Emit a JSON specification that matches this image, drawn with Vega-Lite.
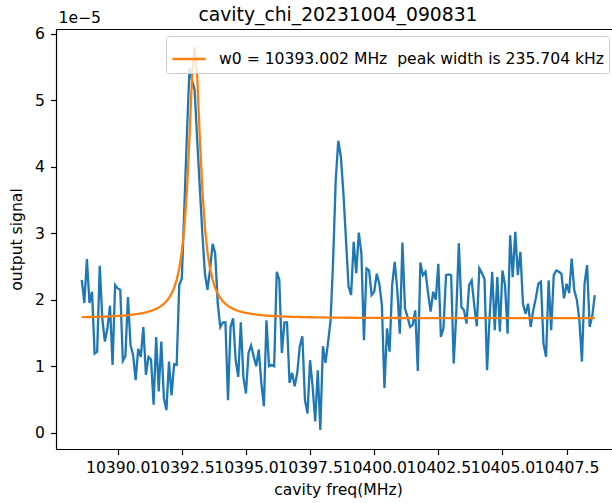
{
"$schema": "https://vega.github.io/schema/vega-lite/v6.json",
"width": 556, "height": 420,
"autosize": {"type": "none"},
"padding": {"left": 56, "top": 29, "right": 0, "bottom": 54},
"background": "white",
"title": {"text": "cavity_chi_20231004_090831", "font": "DejaVu Sans", "fontSize": 18.75, "fontWeight": "normal", "color": "black", "anchor": "middle", "frame": "group", "dx": 4, "baseline": "alphabetic", "offset": -29},
"config": {"view": {"stroke": null}, "font": "DejaVu Sans"},
"data": {"values": [
{"freq":10388.6,"signal":2.30,"fit":1.737},{"freq":10388.7,"signal":1.95,"fit":1.738},{"freq":10388.8,"signal":2.61,"fit":1.739},{"freq":10388.9,"signal":1.95,"fit":1.740},{"freq":10389.0,"signal":2.12,"fit":1.741},
{"freq":10389.1,"signal":1.19,"fit":1.742},{"freq":10389.2,"signal":1.22,"fit":1.743},{"freq":10389.3,"signal":2.51,"fit":1.744},{"freq":10389.4,"signal":1.72,"fit":1.745},{"freq":10389.5,"signal":1.37,"fit":1.747},
{"freq":10389.6,"signal":1.57,"fit":1.748},{"freq":10389.7,"signal":1.91,"fit":1.750},{"freq":10389.8,"signal":1.02,"fit":1.752},{"freq":10389.9,"signal":2.22,"fit":1.754},{"freq":10390.0,"signal":2.17,"fit":1.756},
{"freq":10390.1,"signal":2.15,"fit":1.759},{"freq":10390.2,"signal":1.08,"fit":1.762},{"freq":10390.3,"signal":1.15,"fit":1.765},{"freq":10390.4,"signal":2.04,"fit":1.768},{"freq":10390.5,"signal":1.32,"fit":1.772},
{"freq":10390.6,"signal":1.17,"fit":1.777},{"freq":10390.7,"signal":0.79,"fit":1.782},{"freq":10390.8,"signal":1.26,"fit":1.787},{"freq":10390.9,"signal":1.14,"fit":1.794},{"freq":10391.0,"signal":1.59,"fit":1.801},
{"freq":10391.1,"signal":0.87,"fit":1.810},{"freq":10391.2,"signal":1.14,"fit":1.820},{"freq":10391.3,"signal":1.10,"fit":1.831},{"freq":10391.4,"signal":0.42,"fit":1.845},{"freq":10391.5,"signal":1.44,"fit":1.862},
{"freq":10391.6,"signal":0.62,"fit":1.882},{"freq":10391.7,"signal":1.37,"fit":1.907},{"freq":10391.8,"signal":0.52,"fit":1.937},{"freq":10391.9,"signal":0.34,"fit":1.976},{"freq":10392.0,"signal":1.07,"fit":2.026},
{"freq":10392.1,"signal":0.56,"fit":2.091},{"freq":10392.2,"signal":1.03,"fit":2.178},{"freq":10392.3,"signal":1.02,"fit":2.299},{"freq":10392.4,"signal":2.22,"fit":2.469},{"freq":10392.5,"signal":2.32,"fit":2.718},
{"freq":10392.6,"signal":3.40,"fit":3.091},{"freq":10392.7,"signal":4.50,"fit":3.653},{"freq":10392.8,"signal":5.48,"fit":4.451},{"freq":10392.9,"signal":5.30,"fit":5.352},{"freq":10393.0,"signal":5.15,"fit":5.800},
{"freq":10393.1,"signal":4.40,"fit":5.352},{"freq":10393.2,"signal":3.70,"fit":4.451},{"freq":10393.3,"signal":3.00,"fit":3.653},{"freq":10393.4,"signal":2.40,"fit":3.091},{"freq":10393.5,"signal":2.15,"fit":2.718},
{"freq":10393.6,"signal":2.45,"fit":2.469},{"freq":10393.7,"signal":2.84,"fit":2.299},{"freq":10393.8,"signal":2.70,"fit":2.178},{"freq":10393.9,"signal":1.95,"fit":2.091},{"freq":10394.0,"signal":1.59,"fit":2.026},
{"freq":10394.1,"signal":1.66,"fit":1.976},{"freq":10394.2,"signal":1.66,"fit":1.937},{"freq":10394.3,"signal":0.49,"fit":1.907},{"freq":10394.4,"signal":1.59,"fit":1.882},{"freq":10394.5,"signal":1.72,"fit":1.862},
{"freq":10394.6,"signal":1.09,"fit":1.845},{"freq":10394.7,"signal":0.84,"fit":1.831},{"freq":10394.8,"signal":1.66,"fit":1.820},{"freq":10394.9,"signal":0.84,"fit":1.810},{"freq":10395.0,"signal":0.59,"fit":1.801},
{"freq":10395.1,"signal":1.20,"fit":1.794},{"freq":10395.2,"signal":1.31,"fit":1.787},{"freq":10395.3,"signal":1.15,"fit":1.782},{"freq":10395.4,"signal":1.00,"fit":1.777},{"freq":10395.5,"signal":1.25,"fit":1.772},
{"freq":10395.6,"signal":0.75,"fit":1.768},{"freq":10395.7,"signal":0.40,"fit":1.765},{"freq":10395.8,"signal":1.69,"fit":1.762},{"freq":10395.9,"signal":1.00,"fit":1.759},{"freq":10396.0,"signal":1.02,"fit":1.756},
{"freq":10396.1,"signal":1.00,"fit":1.754},{"freq":10396.2,"signal":2.42,"fit":1.752},{"freq":10396.3,"signal":2.30,"fit":1.750},{"freq":10396.4,"signal":1.20,"fit":1.748},{"freq":10396.5,"signal":1.66,"fit":1.747},
{"freq":10396.6,"signal":1.66,"fit":1.745},{"freq":10396.7,"signal":0.75,"fit":1.744},{"freq":10396.8,"signal":0.90,"fit":1.743},{"freq":10396.9,"signal":0.70,"fit":1.742},{"freq":10397.0,"signal":0.90,"fit":1.741},
{"freq":10397.1,"signal":1.30,"fit":1.740},{"freq":10397.2,"signal":1.45,"fit":1.739},{"freq":10397.3,"signal":0.49,"fit":1.738},{"freq":10397.4,"signal":0.29,"fit":1.737},{"freq":10397.5,"signal":1.09,"fit":1.736},
{"freq":10397.6,"signal":0.69,"fit":1.736},{"freq":10397.7,"signal":0.17,"fit":1.735},{"freq":10397.8,"signal":0.94,"fit":1.734},{"freq":10397.9,"signal":0.04,"fit":1.734},{"freq":10398.0,"signal":1.30,"fit":1.733},
{"freq":10398.1,"signal":1.05,"fit":1.733},{"freq":10398.2,"signal":1.35,"fit":1.732},{"freq":10398.3,"signal":1.69,"fit":1.732},{"freq":10398.4,"signal":2.60,"fit":1.731},{"freq":10398.5,"signal":3.80,"fit":1.731},
{"freq":10398.6,"signal":4.39,"fit":1.731},{"freq":10398.7,"signal":4.15,"fit":1.730},{"freq":10398.8,"signal":3.60,"fit":1.730},{"freq":10398.9,"signal":2.90,"fit":1.729},{"freq":10399.0,"signal":2.20,"fit":1.729},
{"freq":10399.1,"signal":2.07,"fit":1.729},{"freq":10399.2,"signal":2.87,"fit":1.729},{"freq":10399.3,"signal":2.40,"fit":1.728},{"freq":10399.4,"signal":3.01,"fit":1.728},{"freq":10399.5,"signal":2.70,"fit":1.728},
{"freq":10399.6,"signal":1.39,"fit":1.728},{"freq":10399.7,"signal":2.47,"fit":1.727},{"freq":10399.8,"signal":2.44,"fit":1.727},{"freq":10399.9,"signal":2.07,"fit":1.727},{"freq":10400.0,"signal":2.12,"fit":1.727},
{"freq":10400.1,"signal":2.39,"fit":1.726},{"freq":10400.2,"signal":2.24,"fit":1.726},{"freq":10400.3,"signal":1.92,"fit":1.726},{"freq":10400.4,"signal":0.67,"fit":1.726},{"freq":10400.5,"signal":1.57,"fit":1.726},
{"freq":10400.6,"signal":1.22,"fit":1.726},{"freq":10400.7,"signal":2.22,"fit":1.725},{"freq":10400.8,"signal":2.57,"fit":1.725},{"freq":10400.9,"signal":2.15,"fit":1.725},{"freq":10401.0,"signal":1.49,"fit":1.725},
{"freq":10401.1,"signal":2.86,"fit":1.725},{"freq":10401.2,"signal":1.87,"fit":1.725},{"freq":10401.3,"signal":1.74,"fit":1.725},{"freq":10401.4,"signal":1.59,"fit":1.724},{"freq":10401.5,"signal":1.62,"fit":1.724},
{"freq":10401.6,"signal":1.84,"fit":1.724},{"freq":10401.7,"signal":0.93,"fit":1.724},{"freq":10401.8,"signal":2.56,"fit":1.724},{"freq":10401.9,"signal":2.37,"fit":1.724},{"freq":10402.0,"signal":2.42,"fit":1.724},
{"freq":10402.1,"signal":2.10,"fit":1.724},{"freq":10402.2,"signal":1.82,"fit":1.724},{"freq":10402.3,"signal":2.12,"fit":1.723},{"freq":10402.4,"signal":2.00,"fit":1.723},{"freq":10402.5,"signal":2.54,"fit":1.723},
{"freq":10402.6,"signal":1.44,"fit":1.723},{"freq":10402.7,"signal":1.57,"fit":1.723},{"freq":10402.8,"signal":2.37,"fit":1.723},{"freq":10402.9,"signal":2.38,"fit":1.723},{"freq":10403.0,"signal":2.37,"fit":1.723},
{"freq":10403.1,"signal":1.04,"fit":1.723},{"freq":10403.2,"signal":1.80,"fit":1.723},{"freq":10403.3,"signal":2.85,"fit":1.723},{"freq":10403.4,"signal":1.89,"fit":1.723},{"freq":10403.5,"signal":1.84,"fit":1.722},
{"freq":10403.6,"signal":1.64,"fit":1.722},{"freq":10403.7,"signal":2.22,"fit":1.722},{"freq":10403.8,"signal":2.29,"fit":1.722},{"freq":10403.9,"signal":1.92,"fit":1.722},{"freq":10404.0,"signal":1.60,"fit":1.722},
{"freq":10404.1,"signal":2.47,"fit":1.722},{"freq":10404.2,"signal":2.40,"fit":1.722},{"freq":10404.3,"signal":2.31,"fit":1.722},{"freq":10404.4,"signal":0.94,"fit":1.722},{"freq":10404.5,"signal":1.74,"fit":1.722},
{"freq":10404.6,"signal":2.42,"fit":1.722},{"freq":10404.7,"signal":1.54,"fit":1.722},{"freq":10404.8,"signal":2.34,"fit":1.722},{"freq":10404.9,"signal":1.52,"fit":1.722},{"freq":10405.0,"signal":2.44,"fit":1.722},
{"freq":10405.1,"signal":2.22,"fit":1.722},{"freq":10405.2,"signal":1.49,"fit":1.722},{"freq":10405.3,"signal":2.97,"fit":1.722},{"freq":10405.4,"signal":2.34,"fit":1.722},{"freq":10405.5,"signal":3.02,"fit":1.722},
{"freq":10405.6,"signal":2.37,"fit":1.722},{"freq":10405.7,"signal":2.72,"fit":1.722},{"freq":10405.8,"signal":1.94,"fit":1.722},{"freq":10405.9,"signal":1.79,"fit":1.722},{"freq":10406.0,"signal":1.94,"fit":1.722},
{"freq":10406.1,"signal":1.59,"fit":1.722},{"freq":10406.2,"signal":1.84,"fit":1.722},{"freq":10406.3,"signal":2.02,"fit":1.722},{"freq":10406.4,"signal":2.24,"fit":1.722},{"freq":10406.5,"signal":2.27,"fit":1.722},
{"freq":10406.6,"signal":1.34,"fit":1.722},{"freq":10406.7,"signal":1.14,"fit":1.722},{"freq":10406.8,"signal":2.29,"fit":1.722},{"freq":10406.9,"signal":1.54,"fit":1.722},{"freq":10407.0,"signal":2.37,"fit":1.722},
{"freq":10407.1,"signal":2.44,"fit":1.722},{"freq":10407.2,"signal":2.42,"fit":1.722},{"freq":10407.3,"signal":2.39,"fit":1.722},{"freq":10407.4,"signal":2.02,"fit":1.722},{"freq":10407.5,"signal":2.24,"fit":1.722},
{"freq":10407.6,"signal":2.10,"fit":1.722},{"freq":10407.7,"signal":2.62,"fit":1.722},{"freq":10407.8,"signal":2.14,"fit":1.722},{"freq":10407.9,"signal":2.00,"fit":1.722},{"freq":10408.0,"signal":1.69,"fit":1.722},
{"freq":10408.1,"signal":1.07,"fit":1.722},{"freq":10408.2,"signal":2.24,"fit":1.722},{"freq":10408.3,"signal":2.52,"fit":1.722},{"freq":10408.4,"signal":1.59,"fit":1.722},{"freq":10408.5,"signal":1.75,"fit":1.722},
{"freq":10408.6,"signal":2.07,"fit":1.722}
]},
"layer": [
{"mark": {"type": "line", "color": "#1f77b4", "strokeWidth": 2.3, "clip": true},
 "encoding": {
  "x": {"field": "freq", "type": "quantitative", "scale": {"domain": [10387.595, 10409.271], "nice": false, "zero": false},
        "axis": {"orient": "bottom", "values": [10390, 10392.5, 10395, 10397.5, 10400, 10402.5, 10405, 10407.5], "format": ".1f", "labelOverlap": false, "labelFlush": false, "grid": false,
                 "domainColor": "black", "domainWidth": 1.2, "tickColor": "black", "tickWidth": 1.2, "tickSize": 5.5,
                 "labelFont": "DejaVu Sans", "labelFontSize": 15.6, "labelColor": "black", "labelPadding": 6,
                 "title": "cavity freq(MHz)", "titleFont": "DejaVu Sans", "titleFontSize": 15.6, "titleFontWeight": "normal", "titleColor": "black",
                 "titleX": 282, "titleY": 45.7, "titleAlign": "center", "titleBaseline": "alphabetic"}},
  "y": {"field": "signal", "type": "quantitative", "title": "output signal", "scale": {"domain": [-0.245, 6.071], "nice": false, "zero": false},
        "axis": {"orient": "left", "values": [0, 1, 2, 3, 4, 5, 6], "format": "d", "grid": false,
                 "domainColor": "black", "domainWidth": 1.2, "tickColor": "black", "tickWidth": 1.2, "tickSize": 5.5,
                 "labelFont": "DejaVu Sans", "labelFontSize": 15.6, "labelColor": "black", "labelPadding": 6,
                 "titleFont": "DejaVu Sans", "titleFontSize": 15.6, "titleFontWeight": "normal", "titleColor": "black",
                 "titleX": -35, "titleY": 210, "titleAngle": 270, "titleAlign": "center", "titleBaseline": "alphabetic"}}
 }},
{"mark": {"type": "line", "strokeWidth": 2.3, "clip": true},
 "encoding": {
  "x": {"field": "freq", "type": "quantitative",
        "axis": {"orient": "top", "ticks": false, "labels": false, "grid": false, "domainColor": "black", "domainWidth": 1.2,
                 "title": "1e\u22125", "titleFont": "DejaVu Sans", "titleFontSize": 15.6, "titleFontWeight": "normal", "titleColor": "black",
                 "titleX": 2, "titleY": -6.3, "titleAngle": 0, "titleAlign": "left", "titleBaseline": "alphabetic"}},
  "y": {"field": "fit", "type": "quantitative", "title": "output signal"},
  "color": {"datum": "w0 = 10393.002 MHz\u00a0 peak width is 235.704 kHz", "type": "nominal",
            "scale": {"range": ["#ff7f0e"]},
            "legend": {"title": null, "orient": "none", "legendX": 110, "legendY": 7, "symbolType": "stroke", "symbolSize": 1100, "symbolStrokeWidth": 2.3,
                       "labelFont": "DejaVu Sans", "labelFontSize": 15.6, "labelColor": "black", "labelOffset": 12, "labelLimit": 600,
                       "padding": 5, "strokeColor": "#cccccc", "fillColor": "rgba(255,255,255,0.8)", "cornerRadius": 3}}
 }}
],
"resolve": {"axis": {"x": "independent"}}
}
